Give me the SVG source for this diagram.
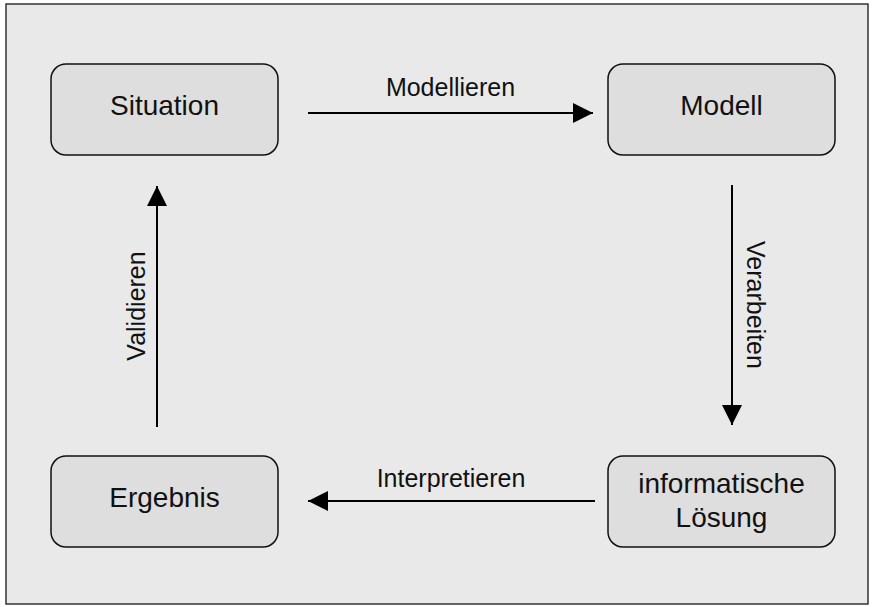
<svg xmlns="http://www.w3.org/2000/svg" width="874" height="607" viewBox="0 0 874 607">
<defs>
<style>
.frame{fill:#e9e9e9;stroke:#333;stroke-width:1.5}
.node rect{fill:#dedede;stroke:#111;stroke-width:1.5}
.node text{font-family:"Liberation Sans",Arial,sans-serif;font-size:28px;fill:#111;text-anchor:middle}
.lbl{font-family:"Liberation Sans",Arial,sans-serif;font-size:25px;fill:#111;text-anchor:middle}
.edge{stroke:#000;stroke-width:2;fill:none;marker-end:url(#ah)}
</style>
<marker id="ah" viewBox="0 0 20 20" refX="20" refY="10" markerWidth="20" markerHeight="20" markerUnits="userSpaceOnUse" orient="auto">
<path d="M0,0 L20,10 L0,20 Z" fill="#000"/>
</marker>
</defs>
<rect class="frame" x="6" y="4" width="862" height="600"/>
<g id="situation" class="node"><rect x="51" y="64" width="227" height="91" rx="15"/><text x="164.5" y="115">Situation</text></g>
<g id="modell" class="node"><rect x="608" y="64" width="227" height="91" rx="15"/><text x="721.5" y="115">Modell</text></g>
<g id="ergebnis" class="node"><rect x="51" y="456" width="227" height="91" rx="15"/><text x="164.5" y="507">Ergebnis</text></g>
<g id="loesung" class="node"><rect x="608" y="456" width="227" height="91" rx="15"/><text x="721.5" y="493">informatische</text><text x="721.5" y="527">Lösung</text></g>
<g id="connectors">
<path class="edge" d="M308,113 L593,113"/>
<path class="edge" d="M732,185 L732,425"/>
<path class="edge" d="M595,501 L308,501"/>
<path class="edge" d="M157,427 L157,186"/>
<text class="lbl" x="450.5" y="96">Modellieren</text>
<text class="lbl" x="451" y="487">Interpretieren</text>
<text class="lbl" transform="translate(747,305) rotate(90)">Verarbeiten</text>
<text class="lbl" transform="translate(145,306) rotate(-90)">Validieren</text>
</g>
</svg>
